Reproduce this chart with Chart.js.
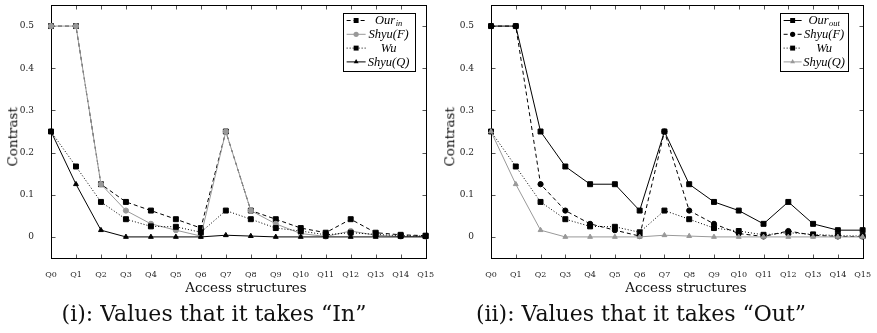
<!DOCTYPE html>
<html>
<head>
<meta charset="utf-8">
<script src="https://cdn.jsdelivr.net/npm/chart.js@4.4.0/dist/chart.umd.min.js"></script>
<style>
  body { margin: 0; background: #fff; width: 877px; height: 333px; overflow: hidden; position: relative; font-family: "DejaVu Serif", serif; }
  canvas { position: absolute; top: 0; }
  .lbl { position: absolute; white-space: nowrap; text-align: center; color: #111; }
  .xt { font-size: 13.5px; line-height: 13.5px; width: 200px; top: 281px; }
  .yt { font-size: 13.5px; line-height: 13.5px; width: 100px; top: 130px; transform: rotate(-90deg); }
  .cap { font-size: 22px; line-height: 22px; width: 400px; top: 303px; }
</style>
</head>
<body>
<canvas id="chartIn" width="438" height="300" style="left:0"></canvas>
<canvas id="chartOut" width="438" height="300" style="left:437px"></canvas>

<div class="lbl yt" style="left:-37px">Contrast</div>
<div class="lbl xt" style="left:146px">Access structures</div>
<div class="lbl cap" style="left:14px">(i): Values that it takes “In”</div>

<div class="lbl yt" style="left:400px">Contrast</div>
<div class="lbl xt" style="left:586px">Access structures</div>
<div class="lbl cap" style="left:441px">(ii): Values that it takes “Out”</div>

<script>
// values
const categories = ['Q0', 'Q1', 'Q2', 'Q3', 'Q4', 'Q5', 'Q6', 'Q7', 'Q8', 'Q9', 'Q10', 'Q11', 'Q12', 'Q13', 'Q14', 'Q15'];
const yTickValues = [0, 0.1, 0.2, 0.3, 0.4, 0.5];
const yTickLabels = ['0', '0.1', '0.2', '0.3', '0.4', '0.5'];

const ourIn  = [0.5, 0.5, 0.125, 0.083, 0.0625, 0.042, 0.021, 0.25, 0.0625, 0.042, 0.021, 0.010, 0.042, 0.010, 0.005, 0.003];
const ourOut = [0.5, 0.5, 0.25, 0.167, 0.125, 0.125, 0.0625, 0.25, 0.125, 0.083, 0.0625, 0.031, 0.083, 0.031, 0.016, 0.016];
const shyuF  = [0.5, 0.5, 0.125, 0.0625, 0.031, 0.016, 0.002, 0.25, 0.0625, 0.031, 0.008, 0.001, 0.014, 0.004, 0.001, 0.001];
const wu     = [0.25, 0.167, 0.083, 0.042, 0.025, 0.024, 0.011, 0.0625, 0.042, 0.021, 0.014, 0.005, 0.010, 0.006, 0.003, 0.002];
const shyuQ  = [0.25, 0.125, 0.016, 0, 0, 0, 0, 0.004, 0.002, 0, 0, 0, 0, 0, 0, 0];

const BLACK = '#000';
const GRAY = '#999';
const DASHED = [4, 3];
const DOTTED = [1, 2];

function series(label, data, color, dash, pointStyle, radius, order) {
    return {
        label,
        data,
        borderColor: color,
        backgroundColor: color,
        pointBackgroundColor: color,
        pointBorderColor: color,
        borderWidth: 1,
        borderDash: dash,
        pointStyle,
        pointRadius: radius,
        pointBorderWidth: 1,
        tension: 0,
        clip: false,
        order
    };
}

function drawMarker(ctx, style, x, y, r, color) {
    ctx.save();
    ctx.setLineDash([]);
    ctx.fillStyle = color;
    ctx.beginPath();
    if (style === 'rect') {
        const s = Math.SQRT1_2 * r;
        ctx.rect(x - s, y - s, 2 * s, 2 * s);
    } else if (style === 'triangle') {
        ctx.moveTo(x, y - r);
        ctx.lineTo(x + r * 0.866, y + r * 0.5);
        ctx.lineTo(x - r * 0.866, y + r * 0.5);
        ctx.closePath();
    } else {
        ctx.arc(x, y, r, 0, Math.PI * 2);
    }
    ctx.fill();
    ctx.restore();
}

// pgfplots-like frame with inward ticks on all four sides
const framePlugin = {
    id: 'frame',
    beforeDatasetsDraw(chart) {
        const { ctx, chartArea: a, scales: { x, y } } = chart;
        const L = Math.round(a.left) + 0.5, R = Math.round(a.right) + 0.5;
        const T = Math.round(a.top) + 0.5, B = Math.round(a.bottom) + 0.5;
        ctx.save();
        ctx.lineWidth = 1;
        ctx.strokeStyle = '#555';
        ctx.beginPath();
        categories.forEach((c, i) => {
            const px = Math.round(x.getPixelForTick(i)) + 0.5;
            ctx.moveTo(px, T); ctx.lineTo(px, T + 4);
            ctx.moveTo(px, B); ctx.lineTo(px, B - 4);
        });
        yTickValues.forEach(v => {
            const py = Math.round(y.getPixelForValue(v)) + 0.5;
            ctx.moveTo(L, py); ctx.lineTo(L + 4, py);
            ctx.moveTo(R, py); ctx.lineTo(R - 4, py);
        });
        ctx.stroke();
        ctx.strokeStyle = '#000';
        ctx.strokeRect(L, T, R - L, B - T);
        ctx.restore();
    }
};

// boxed legend in the top-right corner, line sample + marker + italic label
const boxLegendPlugin = {
    id: 'boxLegend',
    afterDatasetsDraw(chart, args, opts) {
        const { ctx, chartArea: a } = chart;
        const left = Math.round(a.right - 83) + 0.5;
        const top = Math.round(a.top + 8) + 0.5;
        ctx.save();
        ctx.fillStyle = '#fff';
        ctx.fillRect(left, top, opts.width, 58);
        ctx.strokeStyle = '#000';
        ctx.lineWidth = 1;
        ctx.setLineDash([]);
        ctx.strokeRect(left, top, opts.width, 58);

        chart.data.datasets.forEach((ds, i) => {
            const rowY = a.top + 15.5 + 13.8 * i;
            const x0 = a.right - 79, x1 = a.right - opts.lineEnd;
            ctx.strokeStyle = ds.borderColor;
            ctx.lineWidth = 1;
            ctx.setLineDash(ds.borderDash || []);
            ctx.beginPath();
            ctx.moveTo(x0, rowY);
            ctx.lineTo(x1, rowY);
            ctx.stroke();
            drawMarker(ctx, ds.pointStyle, (x0 + x1) / 2, rowY, ds.pointRadius, ds.pointBackgroundColor);

            const parts = ds.label.split('_');
            ctx.fillStyle = '#000';
            ctx.textBaseline = 'middle';
            ctx.font = 'italic 12.5px "Liberation Serif"';
            const w0 = ctx.measureText(parts[0]).width;
            let w1 = 0;
            if (parts[1]) {
                ctx.font = 'italic 8.5px "Liberation Serif"';
                w1 = ctx.measureText(parts[1]).width + 0.5;
            }
            const cx = a.right - opts.textCenter;
            const tx = cx - (w0 + w1) / 2;
            ctx.font = 'italic 12.5px "Liberation Serif"';
            ctx.textAlign = 'left';
            ctx.fillText(parts[0], tx, rowY + 0.5);
            if (parts[1]) {
                ctx.font = 'italic 8.5px "Liberation Serif"';
                ctx.fillText(parts[1], tx + w0 + 0.5, rowY + 3.5);
            }
        });
        ctx.restore();
    }
};

function makeChart(id, datasets, yWidth, padRight, legendOpts) {
    return new Chart(document.getElementById(id), {
        type: 'line',
        data: { labels: categories, datasets },
        plugins: [framePlugin, boxLegendPlugin],
        options: {
            responsive: false,
            animation: false,
            layout: { padding: { top: 5, right: padRight, left: 0, bottom: 0 } },
            plugins: {
                legend: { display: false },
                tooltip: { enabled: false },
                boxLegend: legendOpts
            },
            scales: {
                x: {
                    type: 'category',
                    offset: false,
                    grid: { display: false },
                    border: { display: false },
                    ticks: {
                        autoSkip: false,
                        maxRotation: 0,
                        padding: 4,
                        color: '#222',
                        font: { family: 'DejaVu Serif', size: 8 }
                    },
                    afterFit: s => { s.height = 42; }
                },
                y: {
                    min: -0.05,
                    max: 0.55,
                    grid: { display: false },
                    border: { display: false },
                    afterBuildTicks: s => { s.ticks = yTickValues.map(v => ({ value: v })); },
                    ticks: {
                        padding: 9,
                        color: '#222',
                        font: { family: 'DejaVu Serif', size: 9 },
                        callback: (v, i) => yTickLabels[i]
                    },
                    afterFit: s => {
                        s.width = yWidth;
                        s.paddingTop = 0;
                        s.paddingBottom = 0;
                    }
                }
            }
        }
    });
}

makeChart('chartIn', [
    series('Our_in', ourIn, BLACK, DASHED, 'rect', 3.5, 3),
    series('Shyu(F)', shyuF, GRAY, [], 'circle', 2.6, 2),
    series('Wu', wu, BLACK, DOTTED, 'rect', 3.5, 1),
    series('Shyu(Q)', shyuQ, BLACK, [], 'triangle', 2.8, 0)
], 51, 12, { width: 72, lineEnd: 60, textCenter: 37 });

makeChart('chartOut', [
    series('Our_out', ourOut, BLACK, [], 'rect', 3.5, 3),
    series('Shyu(F)', shyuF, BLACK, DASHED, 'circle', 2.6, 2),
    series('Wu', wu, BLACK, DOTTED, 'rect', 3.5, 1),
    series('Shyu(Q)', shyuQ, GRAY, [], 'triangle', 2.8, 0)
], 54, 9, { width: 68, lineEnd: 61, textCenter: 38.5 });
</script>
</body>
</html>
